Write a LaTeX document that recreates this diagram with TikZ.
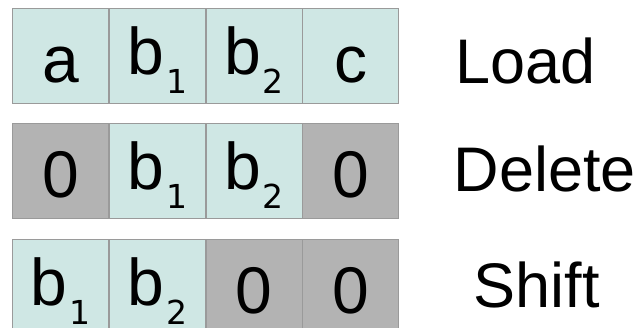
\documentclass[tikz,border=0pt]{standalone}
\usepackage{fontspec}
\setmainfont{Liberation Sans}
\newfontfamily\subfont{DejaVu Sans}
\usetikzlibrary{positioning}
\definecolor{cellteal}{HTML}{CFE7E4}
\definecolor{cellgray}{HTML}{B3B3B3}
\definecolor{cellline}{HTML}{9A9A9A}
\newcommand{\bsub}[1]{b\kern2pt\raisebox{-19pt}{\subfont\fontsize{33}{33}\selectfont #1}}

\begin{document}
\begin{tikzpicture}[
        x=1pt, y=1pt,
        node distance=19.5pt and 0pt,
        cellbox/.style={rectangle, draw=cellline, line width=0.8pt, fill=cellteal, minimum width=96pt, minimum height=95pt, inner sep=0pt, font=\fontsize{66}{66}\selectfont, text height=53pt, text depth=0pt},
        zerobox/.style={cellbox, fill=cellgray},
        subbox/.style={cellbox, text height=48pt, text depth=11pt},
        opname/.style={anchor=base west, font=\fontsize{63}{63}\selectfont},
    ]
        \useasboundingbox (0,0) rectangle (640,-327);

        % Load row
        \node[cellbox, anchor=north west] (la) at (12,-8) {a};
        \node[subbox, right=of la] (lb1) {\bsub{1}};
        \node[subbox, right=of lb1] (lb2) {\bsub{2}};
        \node[cellbox, right=of lb2] (lc) {c};

        % Delete row
        \node[zerobox, below=of la] (dz1) {0};
        \node[subbox, right=of dz1] (db1) {\bsub{1}};
        \node[subbox, right=of db1] (db2) {\bsub{2}};
        \node[zerobox, right=of db2] (dz2) {0};

        % Shift row
        \node[subbox, below=of dz1] (sb1) {\bsub{1}};
        \node[subbox, right=of sb1] (sb2) {\bsub{2}};
        \node[zerobox, right=of sb2] (sz1) {0};
        \node[zerobox, right=of sz1] (sz2) {0};

        % Labels
        \node[opname] (load) at ([xshift=53pt, yshift=20pt]lc.south east) {Load};
        \node[opname] (delete) at ([xshift=51pt, yshift=27.5pt]dz2.south east) {Delete};
        \node[opname] (shift) at ([xshift=71pt, yshift=27pt]sz2.south east) {Shift};
    \end{tikzpicture}
\end{document}
